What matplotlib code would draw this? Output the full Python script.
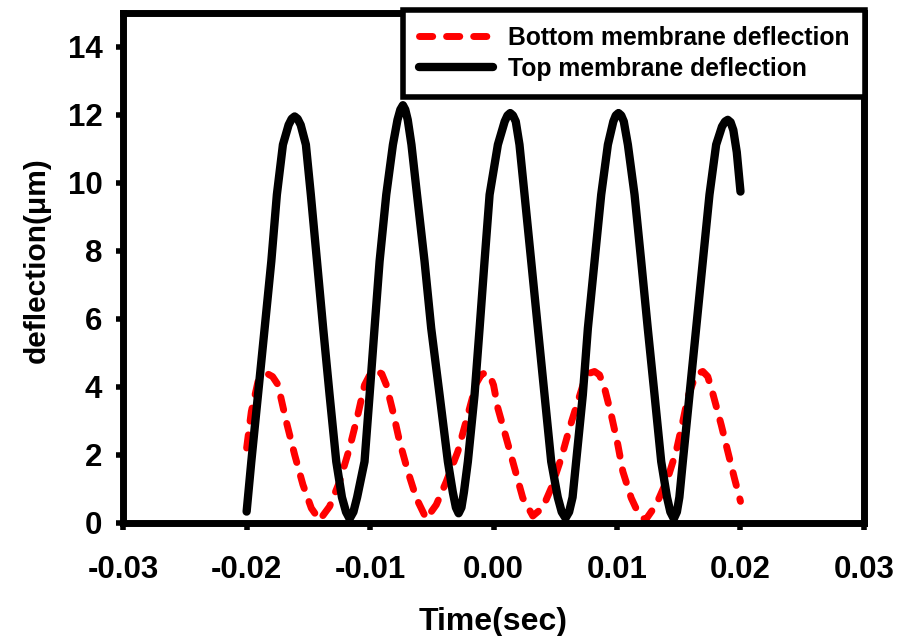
import matplotlib
matplotlib.use("Agg")
import matplotlib.pyplot as plt

# values
top_t = [-0.02000, -0.01962, -0.01908, -0.01854, -0.01800, -0.01755, -0.01706, -0.01660, -0.01635,
         -0.01611,
         -0.01587, -0.01562, -0.01520, -0.01480, -0.01430, -0.01380, -0.01328, -0.01274, -0.01228, -0.01195,
         -0.01166,
         -0.01135, -0.01105, -0.01045, -0.01004, -0.00964, -0.00923, -0.00869, -0.00815, -0.00778, -0.00755,
         -0.00734,
         -0.00715, -0.00695, -0.00665, -0.00620, -0.00559, -0.00505, -0.00437, -0.00370, -0.00330, -0.00305,
         -0.00283,
         -0.00260, -0.00240, -0.00208, -0.00154, -0.00113, -0.00073, -0.00032, 0.00035, 0.00090, 0.00113,
         0.00135,
         0.00157, 0.00180, 0.00210, 0.00251, 0.00305, 0.00359, 0.00413, 0.00467, 0.00520, 0.00552,
         0.00583,
         0.00612, 0.00640, 0.00669, 0.00723, 0.00764, 0.00818, 0.00872, 0.00926, 0.00970, 0.00990,
         0.01012,
         0.01034, 0.01055, 0.01088, 0.01142, 0.01196, 0.01249, 0.01304, 0.01358, 0.01405, 0.01432,
         0.01460,
         0.01485, 0.01505, 0.01533, 0.01587, 0.01641, 0.01695, 0.01749, 0.01803, 0.01850, 0.01875,
         0.01897,
         0.01920, 0.01942, 0.01970, 0.02000]
top_y = [0.33, 1.80, 3.76, 5.72, 7.69, 9.65, 11.12, 11.70, 11.88,
         11.95,
         11.88, 11.70, 11.12, 9.65, 7.69, 5.72, 3.76, 1.80, 0.75, 0.32,
         0.12,
         0.32, 0.75, 1.80, 3.76, 5.72, 7.69, 9.65, 11.12, 11.85, 12.15,
         12.28,
         12.15, 11.85, 11.12, 9.65, 7.69, 5.72, 3.76, 1.80, 0.90, 0.45,
         0.28,
         0.45, 0.90, 1.80, 3.76, 5.72, 7.69, 9.65, 11.12, 11.80, 11.98,
         12.05,
         11.98, 11.80, 11.12, 9.65, 7.69, 5.72, 3.76, 1.80, 0.75, 0.32,
         0.14,
         0.32, 0.75, 1.80, 3.76, 5.72, 7.69, 9.65, 11.12, 11.80, 11.98,
         12.05,
         11.98, 11.80, 11.12, 9.65, 7.69, 5.72, 3.76, 1.80, 0.75, 0.32,
         0.12,
         0.32, 0.75, 1.80, 3.76, 5.72, 7.69, 9.65, 11.12, 11.65, 11.80,
         11.85,
         11.78, 11.55, 10.90, 9.74]

bottom_t = [-0.02000, -0.01962, -0.01908, -0.01870, -0.01830, -0.01790, -0.01746, -0.01679,
            -0.01611, -0.01544, -0.01476, -0.01409, -0.01328, -0.01247, -0.01166, -0.01099,
            -0.01045, -0.00995, -0.00950, -0.00905, -0.00869, -0.00815, -0.00761, -0.00694,
            -0.00626, -0.00545, -0.00464, -0.00383, -0.00289, -0.00208, -0.00140, -0.00100,
            -0.00065, -0.00030, 0.00000, 0.00035, 0.00103, 0.00170, 0.00237, 0.00318,
            0.00399, 0.00467, 0.00548, 0.00615, 0.00683, 0.00737, 0.00778, 0.00818,
            0.00858, 0.00899, 0.00953, 0.01007, 0.01047, 0.01115, 0.01170, 0.01230,
            0.01317, 0.01411, 0.01479, 0.01533, 0.01574, 0.01628, 0.01660, 0.01695,
            0.01735, 0.01776, 0.01844, 0.01897, 0.01951, 0.02000]
bottom_y = [2.20, 3.27, 4.15, 4.33, 4.38, 4.30, 4.06, 2.98,
            2.00, 1.12, 0.43, 0.08, 0.48, 1.21, 2.20, 3.18,
            4.05, 4.40, 4.48, 4.38, 4.06, 3.27, 2.39, 1.51,
            0.73, 0.12, 0.53, 1.21, 2.10, 3.18, 4.10, 4.35,
            4.42, 4.33, 4.05, 3.37, 2.49, 1.61, 0.73, 0.20,
            0.45, 1.02, 1.90, 2.78, 3.57, 4.20, 4.40, 4.45,
            4.35, 3.96, 3.18, 2.29, 1.51, 0.73, 0.30, 0.08,
            0.53, 1.31, 2.10, 2.98, 3.70, 4.25, 4.40, 4.45,
            4.30, 3.80, 2.88, 2.10, 1.31, 0.63]

x_ticks = [-0.03, -0.02, -0.01, 0.00, 0.01, 0.02, 0.03]
x_labels = ["-0.03", "-0.02", "-0.01", "0.00", "0.01", "0.02", "0.03"]
y_ticks = [0, 2, 4, 6, 8, 10, 12, 14]

plt.rcParams['font.family'] = ['Liberation Sans', 'DejaVu Sans']
plt.rcParams['font.weight'] = 'bold'
plt.rcParams['lines.scale_dashes'] = False

fig = plt.figure(figsize=(8.99, 6.36), dpi=100)
ax = fig.add_axes([0.137, 0.178, 0.824, 0.802])

ax.plot(bottom_t, bottom_y, color='red', lw=5, dashes=(9.5, 10),
        dash_capstyle='round', dash_joinstyle='round',
        label='Bottom membrane deflection')
ax.plot(top_t, top_y, color='black', lw=6, solid_capstyle='round',
        solid_joinstyle='round', label='Top membrane deflection')

ax.set_xlim(-0.03, 0.03)
ax.set_ylim(0, 15)
ax.set_xticks(x_ticks)
ax.set_xticklabels(x_labels)
ax.set_yticks(y_ticks)

for s in ax.spines.values():
    s.set_linewidth(5)
ax.tick_params(direction='out', length=5, width=4, labelsize=22.5, pad=10)
ax.tick_params(axis='x', pad=18)

ax.set_xlabel('Time(sec)', fontsize=23, fontweight='bold')
ax.xaxis.set_label_coords(0.5, -0.165)
ax.set_ylabel('deflection(μm)', fontsize=21.5, fontweight='bold')
ax.yaxis.set_label_coords(-0.098, 0.515)

leg = ax.legend(loc='upper right', bbox_to_anchor=(1.002, 1.006), borderaxespad=0,
                fontsize=17.8, handlelength=3.0, handletextpad=0.6,
                labelspacing=0.3, borderpad=0.65, fancybox=False, framealpha=1)
leg.get_frame().set_edgecolor('black')
leg.get_frame().set_linewidth(4)

fig.savefig('out.png', dpi=100)
